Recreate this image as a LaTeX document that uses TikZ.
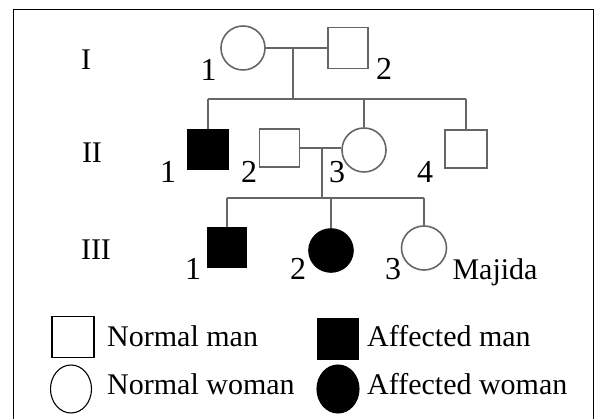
\documentclass[tikz,border=0pt]{standalone}
\usepackage{fontspec}
\setmainfont{Liberation Serif}
\usetikzlibrary{shapes.geometric}
\begin{document}
\begin{tikzpicture}[x=1pt,y=-1pt,
  font=\fontsize{30}{34}\selectfont,
  link/.style={draw=black!60, line width=1.6pt},
  male/.style={rectangle, draw=black!60, line width=1.6pt, fill=white, inner sep=0pt, minimum width=40pt, minimum height=39pt},
  female/.style={ellipse, draw=black!60, line width=1.6pt, fill=white, inner sep=0pt, minimum width=44pt, minimum height=44pt},
  affected/.style={fill=black, draw=black},
  keybox/.style={rectangle, draw=black, line width=1.1pt, inner sep=0pt, minimum width=42pt, minimum height=41pt},
  keyround/.style={ellipse, draw=black, line width=1.1pt, inner sep=0pt, minimum width=41pt, minimum height=48pt},
  num/.style={anchor=base, inner sep=0pt, font=\fontsize{32}{36}\selectfont},
  gen/.style={anchor=base, inner sep=0pt},
  keytext/.style={anchor=base west, inner sep=0pt}]

% page and frame (the frame's lower edge sits at the page edge)
\useasboundingbox (0,0) rectangle (598,419);
\begin{scope}
  \clip (0,0) rectangle (598,419);
  \draw[line width=1.4pt] (13.5,9.5) rectangle (593.5,421);
\end{scope}

% generation labels
\node[gen] (gI)   at (86,70)  {I};
\node[gen] (gII)  at (92,163) {II};
\node[gen] (gIII) at (96,260) {III};

% generation I
\node[female] (I1) at (243,48)   {};
\node[male, minimum height=41pt] (I2) at (348,48) {};
\node[num] (nI1) at (208.5,81) {1};
\node[num] (nI2) at (384,80) {2};
\coordinate (m1) at (293,48);
\coordinate (s1) at (293,99);
\draw[link] (I1.east) -- (I2.west);
\draw[link] (m1) -- (s1);

% generation II
\node[male, affected, minimum width=41pt] (II1) at (208,149.5) {};
\node[male, minimum height=38pt] (II2) at (279.5,148) {};
\node[female] (II3) at (364,150) {};
\node[male, minimum width=42pt, minimum height=38pt] (II4) at (466,149) {};
\node[num] (nII1) at (168,183) {1};
\node[num] (nII2) at (249,183) {2};
\node[num] (nII3) at (337,183) {3};
\node[num] (nII4) at (425,183) {4};
\draw[link] (II1.north |- s1) -- (II4.north |- s1);
\draw[link] (II1.north |- s1) -- (II1.north);
\draw[link] (II3.north |- s1) -- (II3.north);
\draw[link] (II4.north |- s1) -- (II4.north);
\coordinate (m2) at (322,148);
\coordinate (s2) at (322,198);
\draw[link] (II2.east) -- (II3.west |- II2.east);
\draw[link] (m2) -- (s2);

% generation III
\node[male, affected, minimum width=39pt] (III1) at (227,247.5) {};
\node[female, affected, minimum height=43pt] (III2) at (331,250.5) {};
\node[female, minimum width=45pt] (III3) at (424,248) {};
\node[num] (nIII1) at (193,280) {1};
\node[num] (nIII2) at (298,280) {2};
\node[num] (nIII3) at (393,280) {3};
\node[gen] (maj) at (495,280) {Majida};
\draw[link] (III1.north |- s2) -- (III3.north |- s2);
\draw[link] (III1.north |- s2) -- (III1.north);
\draw[link] (III2.north |- s2) -- (III2.north);
\draw[link] (III3.north |- s2) -- (III3.north);

% key
\node[keybox] (k1) at (73,337) {};
\node[keybox, fill=black, minimum width=41pt] (k2) at (338,339) {};
\node[keyround] (k3) at (71,389) {};
\node[keyround, fill=black, minimum width=42pt] (k4) at (338,389) {};
\node[keytext] (t1) at (107,347) {Normal man};
\node[keytext] (t2) at (367,347) {Affected man};
\node[keytext] (t3) at (107,395) {Normal woman};
\node[keytext] (t4) at (367,395) {Affected woman};
\end{tikzpicture}
\end{document}
